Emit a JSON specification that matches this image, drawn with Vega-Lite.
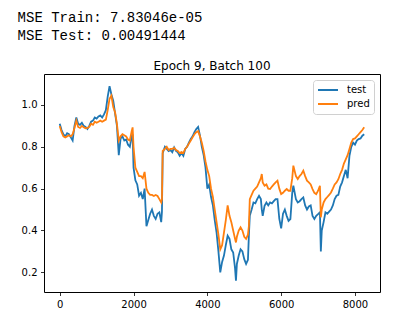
{
  "$schema": "https://vega.github.io/schema/vega-lite/v6.json",
  "background": "white",
  "padding": {"left": 17, "top": 10, "right": 5, "bottom": 5},
  "title": {
    "text": ["MSE Train: 7.83046e-05", "MSE Test: 0.00491444"],
    "anchor": "start",
    "frame": "bounds",
    "font": "Liberation Mono",
    "fontSize": 14,
    "fontWeight": "normal",
    "color": "#000000",
    "lineHeight": 18,
    "dx": -3,
    "offset": 17
  },
  "data": {
    "values": [
      {"x": 0, "test": 0.91, "pred": 0.90},
      {"x": 50, "test": 0.88, "pred": 0.87},
      {"x": 100, "test": 0.86, "pred": 0.85},
      {"x": 150, "test": 0.85, "pred": 0.845},
      {"x": 200, "test": 0.865, "pred": 0.85},
      {"x": 250, "test": 0.86, "pred": 0.855},
      {"x": 300, "test": 0.845, "pred": 0.85},
      {"x": 350, "test": 0.83, "pred": 0.86},
      {"x": 400, "test": 0.90, "pred": 0.89},
      {"x": 450, "test": 0.94, "pred": 0.925},
      {"x": 500, "test": 0.91, "pred": 0.895},
      {"x": 550, "test": 0.905, "pred": 0.89},
      {"x": 600, "test": 0.915, "pred": 0.90},
      {"x": 650, "test": 0.90, "pred": 0.893},
      {"x": 700, "test": 0.895, "pred": 0.888},
      {"x": 750, "test": 0.885, "pred": 0.89},
      {"x": 800, "test": 0.90, "pred": 0.895},
      {"x": 850, "test": 0.92, "pred": 0.91},
      {"x": 900, "test": 0.925, "pred": 0.905},
      {"x": 950, "test": 0.94, "pred": 0.92},
      {"x": 1000, "test": 0.935, "pred": 0.915},
      {"x": 1050, "test": 0.945, "pred": 0.92},
      {"x": 1100, "test": 0.95, "pred": 0.925},
      {"x": 1150, "test": 0.94, "pred": 0.92},
      {"x": 1200, "test": 0.955, "pred": 0.925},
      {"x": 1250, "test": 0.975, "pred": 0.93},
      {"x": 1300, "test": 1.04, "pred": 0.975},
      {"x": 1350, "test": 1.09, "pred": 1.03},
      {"x": 1400, "test": 1.05, "pred": 1.045},
      {"x": 1450, "test": 1.02, "pred": 0.99},
      {"x": 1500, "test": 0.96, "pred": 0.965},
      {"x": 1550, "test": 0.90, "pred": 0.91},
      {"x": 1600, "test": 0.76, "pred": 0.83},
      {"x": 1650, "test": 0.84, "pred": 0.85},
      {"x": 1700, "test": 0.85, "pred": 0.86},
      {"x": 1750, "test": 0.83, "pred": 0.855},
      {"x": 1800, "test": 0.835, "pred": 0.85},
      {"x": 1850, "test": 0.81, "pred": 0.835},
      {"x": 1900, "test": 0.80, "pred": 0.83},
      {"x": 1950, "test": 0.85, "pred": 0.875},
      {"x": 1975, "test": 0.86, "pred": 0.893},
      {"x": 2000, "test": 0.70, "pred": 0.80},
      {"x": 2050, "test": 0.64, "pred": 0.70},
      {"x": 2100, "test": 0.62, "pred": 0.68},
      {"x": 2150, "test": 0.566, "pred": 0.66},
      {"x": 2200, "test": 0.58, "pred": 0.66},
      {"x": 2250, "test": 0.55, "pred": 0.65},
      {"x": 2300, "test": 0.60, "pred": 0.68},
      {"x": 2350, "test": 0.42, "pred": 0.60},
      {"x": 2400, "test": 0.45, "pred": 0.58},
      {"x": 2450, "test": 0.48, "pred": 0.57},
      {"x": 2500, "test": 0.50, "pred": 0.57},
      {"x": 2550, "test": 0.47, "pred": 0.565},
      {"x": 2600, "test": 0.455, "pred": 0.57},
      {"x": 2650, "test": 0.48, "pred": 0.565},
      {"x": 2700, "test": 0.487, "pred": 0.55},
      {"x": 2750, "test": 0.44, "pred": 0.534},
      {"x": 2770, "test": 0.49, "pred": 0.55},
      {"x": 2790, "test": 0.77, "pred": 0.78},
      {"x": 2850, "test": 0.80, "pred": 0.79},
      {"x": 2900, "test": 0.79, "pred": 0.80},
      {"x": 2950, "test": 0.78, "pred": 0.785},
      {"x": 3000, "test": 0.785, "pred": 0.79},
      {"x": 3050, "test": 0.774, "pred": 0.79},
      {"x": 3100, "test": 0.797, "pred": 0.795},
      {"x": 3150, "test": 0.78, "pred": 0.785},
      {"x": 3200, "test": 0.774, "pred": 0.78},
      {"x": 3250, "test": 0.757, "pred": 0.77},
      {"x": 3300, "test": 0.77, "pred": 0.775},
      {"x": 3350, "test": 0.757, "pred": 0.77},
      {"x": 3400, "test": 0.79, "pred": 0.79},
      {"x": 3450, "test": 0.80, "pred": 0.80},
      {"x": 3500, "test": 0.82, "pred": 0.815},
      {"x": 3550, "test": 0.837, "pred": 0.83},
      {"x": 3600, "test": 0.85, "pred": 0.845},
      {"x": 3650, "test": 0.87, "pred": 0.86},
      {"x": 3700, "test": 0.885, "pred": 0.87},
      {"x": 3750, "test": 0.895, "pred": 0.875},
      {"x": 3800, "test": 0.853, "pred": 0.85},
      {"x": 3850, "test": 0.80, "pred": 0.82},
      {"x": 3900, "test": 0.76, "pred": 0.78},
      {"x": 3950, "test": 0.70, "pred": 0.73},
      {"x": 4000, "test": 0.60, "pred": 0.69},
      {"x": 4050, "test": 0.62, "pred": 0.66},
      {"x": 4100, "test": 0.56, "pred": 0.60},
      {"x": 4150, "test": 0.52, "pred": 0.56},
      {"x": 4200, "test": 0.45, "pred": 0.50},
      {"x": 4250, "test": 0.39, "pred": 0.44},
      {"x": 4300, "test": 0.30, "pred": 0.38},
      {"x": 4350, "test": 0.20, "pred": 0.31},
      {"x": 4400, "test": 0.25, "pred": 0.33},
      {"x": 4450, "test": 0.28, "pred": 0.39},
      {"x": 4500, "test": 0.33, "pred": 0.45},
      {"x": 4550, "test": 0.375, "pred": 0.52},
      {"x": 4600, "test": 0.36, "pred": 0.47},
      {"x": 4650, "test": 0.31, "pred": 0.44},
      {"x": 4700, "test": 0.295, "pred": 0.40},
      {"x": 4750, "test": 0.22, "pred": 0.36},
      {"x": 4775, "test": 0.16, "pred": 0.343},
      {"x": 4800, "test": 0.24, "pred": 0.37},
      {"x": 4850, "test": 0.28, "pred": 0.40},
      {"x": 4900, "test": 0.31, "pred": 0.415},
      {"x": 4950, "test": 0.30, "pred": 0.40},
      {"x": 5000, "test": 0.263, "pred": 0.37},
      {"x": 5050, "test": 0.24, "pred": 0.36},
      {"x": 5100, "test": 0.26, "pred": 0.38},
      {"x": 5125, "test": 0.375, "pred": 0.42},
      {"x": 5150, "test": 0.47, "pred": 0.55},
      {"x": 5200, "test": 0.50, "pred": 0.57},
      {"x": 5250, "test": 0.534, "pred": 0.59},
      {"x": 5300, "test": 0.53, "pred": 0.60},
      {"x": 5350, "test": 0.55, "pred": 0.61},
      {"x": 5400, "test": 0.566, "pred": 0.63},
      {"x": 5450, "test": 0.55, "pred": 0.65},
      {"x": 5475, "test": 0.50, "pred": 0.67},
      {"x": 5500, "test": 0.47, "pred": 0.63},
      {"x": 5550, "test": 0.518, "pred": 0.614},
      {"x": 5600, "test": 0.534, "pred": 0.62},
      {"x": 5650, "test": 0.52, "pred": 0.60},
      {"x": 5700, "test": 0.534, "pred": 0.598},
      {"x": 5750, "test": 0.53, "pred": 0.61},
      {"x": 5800, "test": 0.54, "pred": 0.62},
      {"x": 5850, "test": 0.55, "pred": 0.63},
      {"x": 5900, "test": 0.55, "pred": 0.638},
      {"x": 5950, "test": 0.455, "pred": 0.60},
      {"x": 6000, "test": 0.41, "pred": 0.574},
      {"x": 6050, "test": 0.48, "pred": 0.58},
      {"x": 6100, "test": 0.50, "pred": 0.59},
      {"x": 6150, "test": 0.47, "pred": 0.598},
      {"x": 6200, "test": 0.446, "pred": 0.59},
      {"x": 6250, "test": 0.455, "pred": 0.59},
      {"x": 6300, "test": 0.58, "pred": 0.65},
      {"x": 6330, "test": 0.614, "pred": 0.71},
      {"x": 6400, "test": 0.55, "pred": 0.66},
      {"x": 6450, "test": 0.534, "pred": 0.646},
      {"x": 6500, "test": 0.54, "pred": 0.66},
      {"x": 6550, "test": 0.55, "pred": 0.67},
      {"x": 6600, "test": 0.558, "pred": 0.686},
      {"x": 6650, "test": 0.52, "pred": 0.66},
      {"x": 6700, "test": 0.50, "pred": 0.638},
      {"x": 6750, "test": 0.515, "pred": 0.63},
      {"x": 6800, "test": 0.52, "pred": 0.62},
      {"x": 6850, "test": 0.47, "pred": 0.598},
      {"x": 6900, "test": 0.455, "pred": 0.58},
      {"x": 6950, "test": 0.47, "pred": 0.574},
      {"x": 7000, "test": 0.478, "pred": 0.59},
      {"x": 7050, "test": 0.487, "pred": 0.614},
      {"x": 7075, "test": 0.30, "pred": 0.463},
      {"x": 7100, "test": 0.40, "pred": 0.50},
      {"x": 7150, "test": 0.44, "pred": 0.534},
      {"x": 7200, "test": 0.487, "pred": 0.55},
      {"x": 7250, "test": 0.48, "pred": 0.56},
      {"x": 7300, "test": 0.49, "pred": 0.57},
      {"x": 7350, "test": 0.50, "pred": 0.582},
      {"x": 7400, "test": 0.52, "pred": 0.60},
      {"x": 7450, "test": 0.55, "pred": 0.62},
      {"x": 7500, "test": 0.566, "pred": 0.63},
      {"x": 7550, "test": 0.57, "pred": 0.645},
      {"x": 7600, "test": 0.61, "pred": 0.67},
      {"x": 7650, "test": 0.63, "pred": 0.69},
      {"x": 7700, "test": 0.66, "pred": 0.72},
      {"x": 7750, "test": 0.69, "pred": 0.74},
      {"x": 7800, "test": 0.65, "pred": 0.76},
      {"x": 7850, "test": 0.757, "pred": 0.79},
      {"x": 7900, "test": 0.80, "pred": 0.82},
      {"x": 7950, "test": 0.82, "pred": 0.837},
      {"x": 8000, "test": 0.81, "pred": 0.84},
      {"x": 8050, "test": 0.83, "pred": 0.85},
      {"x": 8100, "test": 0.837, "pred": 0.86},
      {"x": 8150, "test": 0.84, "pred": 0.87},
      {"x": 8200, "test": 0.853, "pred": 0.88},
      {"x": 8250, "test": 0.86, "pred": 0.893}
    ]
  },
  "vconcat": [
    {
      "width": 336,
      "height": 218,
      "title": {
        "text": "Epoch 9, Batch 100",
        "font": "DejaVu Sans",
        "fontSize": 12,
        "fontWeight": "normal",
        "color": "#000000",
        "anchor": "middle",
        "offset": 1
      },
      "transform": [{"fold": ["test", "pred"], "as": ["key", "value"]}],
      "mark": {"type": "line", "strokeWidth": 1.8, "clip": true},
      "encoding": {
        "x": {
          "field": "x",
          "type": "quantitative",
          "scale": {"domain": [-426, 8678], "nice": false, "zero": false},
          "axis": {
            "title": null,
            "values": [0, 2000, 4000, 6000, 8000],
            "format": "d"
          }
        },
        "y": {
          "field": "value",
          "type": "quantitative",
          "scale": {"domain": [0.106, 1.148], "nice": false, "zero": false},
          "axis": {
            "title": null,
            "values": [0.2, 0.4, 0.6, 0.8, 1.0],
            "format": ".1f"
          }
        },
        "color": {
          "field": "key",
          "type": "nominal",
          "scale": {"domain": ["test", "pred"], "range": ["#1f77b4", "#ff7f0e"]},
          "legend": {
            "title": null,
            "orient": "top-right",
            "offset": 6,
            "symbolType": "M-1,0H1",
            "symbolStrokeWidth": 2,
            "symbolSize": 400,
            "symbolFillColor": "transparent",
            "clipHeight": 12,
            "labelFont": "DejaVu Sans",
            "labelFontSize": 10,
            "labelColor": "#000000",
            "padding": 4,
            "cornerRadius": 3,
            "strokeColor": "#d0d0d0",
            "fillColor": "#ffffff",
            "rowPadding": 2,
            "labelOffset": 8
          }
        }
      }
    }
  ],
  "config": {
    "view": {"stroke": "#000000", "strokeWidth": 1},
    "axis": {
      "grid": false,
      "domain": false,
      "tickSize": 3.5,
      "tickColor": "#000000",
      "tickWidth": 0.8,
      "labelPadding": 3.5,
      "labelFont": "DejaVu Sans",
      "labelFontSize": 10,
      "labelColor": "#000000"
    }
  }
}
